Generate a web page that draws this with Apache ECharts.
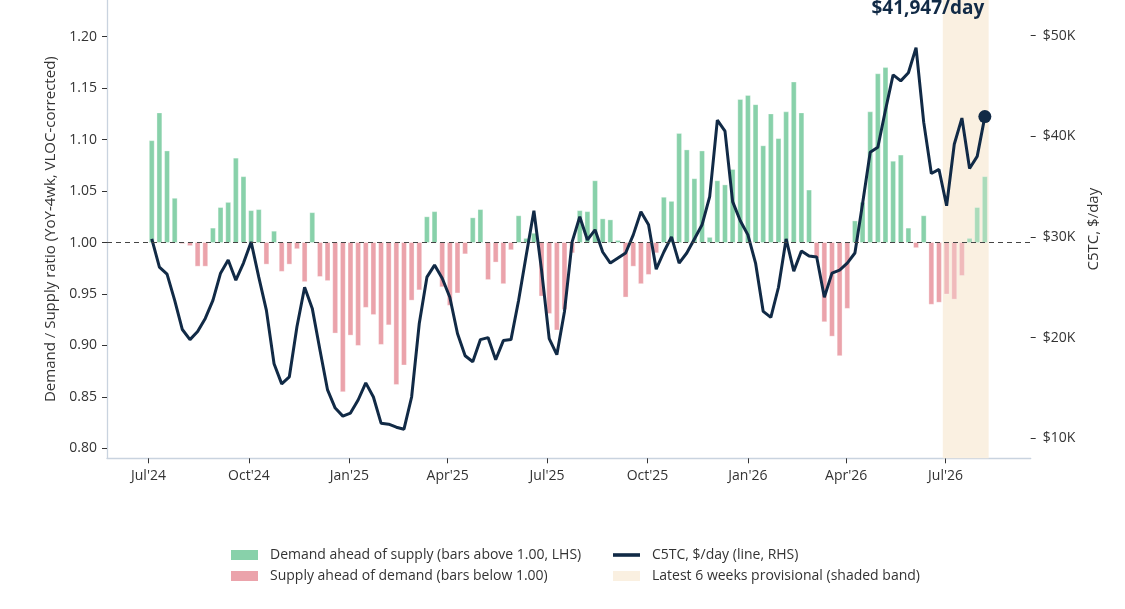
<!DOCTYPE html>
<html>
<head>
<meta charset="utf-8">
<script src="https://cdn.jsdelivr.net/npm/echarts@6/dist/echarts.min.js"></script>
<style>html,body{margin:0;padding:0;background:#fff}#c{width:1125px;height:609px}</style>
</head>
<body>
<div id="c"></div>
<script>
// ---- data ----
const firstWeek = '2024-07-04';           // first weekly observation
const provisionalWeeks = 6;               // latest weeks shaded
const ratio = [
  1.099,1.126,1.089,1.043,0.999,0.997,0.977,0.977,1.014,1.034,
  1.039,1.082,1.064,1.031,1.032,0.979,1.011,0.972,0.979,0.994,
  0.962,1.029,0.967,0.963,0.912,0.855,0.910,0.900,0.937,0.930,
  0.901,0.920,0.862,0.881,0.944,0.954,1.025,1.030,0.957,0.939,
  0.951,0.989,1.024,1.032,0.964,0.981,0.960,0.993,1.026,1.004,
  1.009,0.948,0.931,0.915,0.935,0.990,1.031,1.030,1.060,1.023,
  1.022,1.002,0.947,0.977,0.960,0.969,0.990,1.044,1.040,1.106,
  1.090,1.062,1.089,1.005,1.060,1.056,1.071,1.139,1.143,1.134,
  1.094,1.125,1.101,1.127,1.156,1.126,1.051,0.985,0.923,0.909,
  0.890,0.936,1.021,1.039,1.127,1.164,1.170,1.079,1.085,1.014,
  0.995,1.026,0.940,0.942,0.950,0.945,0.968,1.004,1.034,1.064
];
const c5tc = [
  29800,27000,26300,23700,20800,19800,20600,21900,23700,26400,
  27700,25700,27400,29500,26000,22700,17400,15400,16100,21100,
  25000,22900,18800,14800,13000,12200,12500,13800,15500,14100,
  11500,11400,11100,10900,14100,21400,26000,27200,25900,24000,
  20400,18200,17600,19800,20000,17800,19700,19800,23700,28200,
  32600,26700,19900,18300,22600,29500,32000,29700,30700,28500,
  27400,27900,28400,30200,32500,31200,26800,28500,30000,27400,
  28400,29800,31200,34000,41600,40500,33500,31600,30200,27400,
  22600,22000,25000,29800,26600,28600,28100,28000,24000,26400,
  26700,27400,28400,33300,38400,38900,42600,46100,45500,46300,
  48800,41400,36300,36700,33100,39200,41800,36800,38000,41947
];
const xTickDates  = ['2024-07-01','2024-10-01','2025-01-01','2025-04-01','2025-07-01','2025-10-01','2026-01-01','2026-04-01','2026-07-01'];
const xTickLabels = ["Jul'24","Oct'24","Jan'25","Apr'25","Jul'25","Oct'25","Jan'26","Apr'26","Jul'26"];
const leftTicks  = [0.80,0.85,0.90,0.95,1.00,1.05,1.10,1.15,1.20];
const rightTicks = [10000,20000,30000,40000,50000];
const seriesNames = {
  up: 'Demand ahead of supply (bars above 1.00, LHS)',
  down: 'Supply ahead of demand (bars below 1.00)',
  line: 'C5TC, $/day (line, RHS)',
  band: 'Latest 6 weeks provisional (shaded band)'
};

// ---- build ----
const DAY = 86400000;
const toT = s => { const [y,m,d] = s.split('-').map(Number); return Date.UTC(y, m-1, d); };
const t0 = toT(firstWeek);
const weeks = ratio.map((_, i) => t0 + i * 7 * DAY);
const n = ratio.length;
const provStart = n - provisionalWeeks;
const upData = [], downData = [];
ratio.forEach((v, i) => {
  const row = [weeks[i], v, i >= provStart ? 1 : 0];
  (v >= 1 ? upData : downData).push(row);
});
const lineData = c5tc.map((v, i) => [weeks[i], v]);
const lastPt = lineData[n - 1];
const bandData = [[weeks[provStart] - 3.5 * DAY, weeks[n - 1] + 3.5 * DAY, 1]];
const xTicks = xTickDates.map(toT);

const YMIN = 0.7903, YMAX = 1.2357;
const RMIN = 8010, RMAX = 53530;
const NAVY = '#112a46', GREEN = '#88d1aa', PINK = '#eba3ab', BAND = '#faf0e1';
const AXISC = '#c9d3df', TXT = '#333333';

function barItem(params, api) {
  const t = api.value(0), v = api.value(1), prov = api.value(2);
  const p0 = api.coord([t, 1]);
  const p1 = api.coord([t, v]);
  const w = api.size([7 * DAY, 0])[0] * 0.64;
  return {
    type: 'rect',
    shape: { x: p0[0] - w / 2, y: Math.min(p0[1], p1[1]), width: w, height: Math.abs(p1[1] - p0[1]) },
    style: { fill: api.visual('color'), opacity: prov ? 0.7 : 1, stroke: 'rgba(255,255,255,0.55)', lineWidth: 0.6 }
  };
}
function bandItem(params, api) {
  const a = api.coord([api.value(0), YMAX]);
  const b = api.coord([api.value(1), YMIN]);
  return { type: 'rect', shape: { x: a[0], y: a[1], width: b[0] - a[0], height: b[1] - a[1] }, style: { fill: api.visual('color') } };
}

const chart = echarts.init(document.getElementById('c'), null, { renderer: 'canvas' });
chart.setOption({
  animation: false,
  backgroundColor: '#ffffff',
  textStyle: { fontFamily: 'Open Sans', color: TXT },
  grid: { left: 107, right: 94.3, top: 0, bottom: 150.7, containLabel: false },
  legend: [
    {
      left: 226, top: 543, orient: 'vertical', itemWidth: 27, itemHeight: 10, itemGap: 7, selectedMode: false,
      textStyle: { fontSize: 14, color: TXT, padding: [0, 0, 0, 7] },
      data: [{ name: seriesNames.up, icon: 'rect' }, { name: seriesNames.down, icon: 'rect' }]
    },
    {
      left: 608, top: 543, orient: 'vertical', itemWidth: 27, itemHeight: 10, itemGap: 7, selectedMode: false,
      textStyle: { fontSize: 14, color: TXT, padding: [0, 0, 0, 7] },
      data: [{ name: seriesNames.line, icon: 'path://M0,0H27V3.6H0Z' }, { name: seriesNames.band, icon: 'rect' }]
    }
  ],
  xAxis: {
    type: 'value',
    min: toT('2024-05-24'), max: toT('2026-09-17'),
    axisLine: { show: true, lineStyle: { color: AXISC, width: 1.3 } },
    axisTick: { show: true, customValues: xTicks, length: 5, lineStyle: { color: '#333', width: 1 } },
    axisLabel: {
      customValues: xTicks, color: TXT, fontSize: 14, margin: 11,
      formatter: v => { let k = 0, best = Infinity; xTicks.forEach((t, i) => { const d = Math.abs(t - v); if (d < best) { best = d; k = i; } }); return xTickLabels[k]; }
    },
    splitLine: { show: false }
  },
  yAxis: [
    {
      type: 'value', min: YMIN, max: YMAX, position: 'left',
      name: 'Demand / Supply ratio (YoY-4wk, VLOC-corrected)', nameLocation: 'middle', nameGap: 49, nameRotate: 90,
      nameTextStyle: { fontSize: 15, color: TXT },
      axisLine: { show: true, lineStyle: { color: AXISC, width: 1.3 } },
      axisTick: { show: true, customValues: leftTicks, length: 5, lineStyle: { color: '#333' } },
      axisLabel: { customValues: leftTicks, color: TXT, fontSize: 14, margin: 10, formatter: v => v.toFixed(2) },
      splitLine: { show: false }
    },
    {
      type: 'value', min: RMIN, max: RMAX, position: 'right',
      name: 'C5TC, $/day', nameLocation: 'middle', nameGap: 51, nameRotate: 90,
      nameTextStyle: { fontSize: 15, color: TXT },
      axisLine: { show: false },
      axisTick: { show: true, customValues: rightTicks, length: 5, lineStyle: { color: '#333' } },
      axisLabel: { customValues: rightTicks, color: TXT, fontSize: 14, margin: 12, formatter: v => '$' + Math.round(v / 1000) + 'K' },
      splitLine: { show: false }
    }
  ],
  series: [
    {
      name: seriesNames.band, type: 'custom', renderItem: bandItem, data: bandData,
      encode: { x: [0, 1], y: 2 }, itemStyle: { color: BAND }, z: 1, silent: true
    },
    {
      name: seriesNames.up, type: 'custom', renderItem: barItem, data: upData,
      encode: { x: 0, y: 1 }, itemStyle: { color: GREEN }, z: 2,
      markLine: {
        silent: true, symbol: 'none', label: { show: false },
        lineStyle: { color: '#444', type: [5, 4], width: 1.2 },
        data: [{ yAxis: 1 }]
      }
    },
    {
      name: seriesNames.down, type: 'custom', renderItem: barItem, data: downData,
      encode: { x: 0, y: 1 }, itemStyle: { color: PINK }, z: 2
    },
    {
      name: seriesNames.line, type: 'line', yAxisIndex: 1, data: lineData,
      symbol: 'none', lineStyle: { color: NAVY, width: 3 }, itemStyle: { color: NAVY }, z: 4
    },
    {
      type: 'scatter', yAxisIndex: 1, data: [lastPt], symbolSize: 13, itemStyle: { color: NAVY, opacity: 1 }, z: 5,
      label: {
        show: true, position: 'inside', offset: [-57, -108], color: NAVY, opacity: 1, fontSize: 19, fontWeight: 'bold',
        formatter: p => '$' + p.value[1].toLocaleString('en-US') + '/day'
      }
    }
  ]
});
</script>
</body>
</html>
